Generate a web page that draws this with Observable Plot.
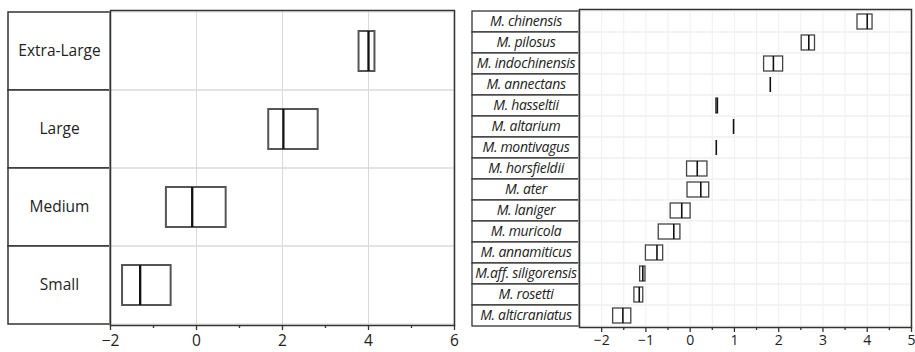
<!DOCTYPE html>
<html><head><meta charset="utf-8">
<script src="https://cdn.jsdelivr.net/npm/d3@7"></script>
<script src="https://cdn.jsdelivr.net/npm/@observablehq/plot@0.6"></script>
<style>
body{margin:0;background:#fff;}
#wrap{display:flex;width:915px;height:352px;overflow:hidden;}
#wrap svg{display:block;flex:none;overflow:visible;}
</style></head><body><div id="wrap"></div>
<script>
// Left panel: size classes
const sizeClasses = ["Extra-Large", "Large", "Medium", "Small"];
const sizeQ1 =     [3.78, 1.68, -0.70, -1.72];
const sizeMedian = [4.00, 2.02, -0.10, -1.31];
const sizeQ3 =     [4.15, 2.83,  0.69, -0.59];
const sizeTicks = [-2, 0, 2, 4, 6];
const sizeMinorTicks = [-1, 1, 3, 5];
const sizeGrid = [0, 2, 4];

// Right panel: species
const species = ["M. chinensis", "M. pilosus", "M. indochinensis", "M. annectans", "M. hasseltii",
  "M. altarium", "M. montivagus", "M. horsfieldii", "M. ater", "M. laniger", "M. muricola",
  "M. annamiticus", "M.aff. siligorensis", "M. rosetti", "M. alticraniatus"];
const spQ1 =     [3.78, 2.52, 1.67, 1.81, 0.59, 0.98, 0.59, -0.07, -0.06, -0.44, -0.71, -1.00, -1.13, -1.26, -1.74];
const spMedian = [4.00, 2.68, 1.88, 1.81, 0.61, 0.98, 0.59,  0.16,  0.24, -0.19, -0.37, -0.75, -1.07, -1.15, -1.52];
const spQ3 =     [4.12, 2.82, 2.10, 1.81, 0.63, 0.98, 0.59,  0.39,  0.43,  0.01, -0.22, -0.61, -1.01, -1.06, -1.33];
const spTicks = [-2, -1, 0, 1, 2, 3, 4, 5];
const spMinorTicks = [-1.5, -0.5, 0.5, 1.5, 2.5, 3.5, 4.5];
const spGrid = [-2, -1.5, -1, -0.5, 0, 0.5, 1, 1.5, 2, 2.5, 3, 3.5, 4, 4.5];

const sizeData = sizeClasses.map((c, i) => ({c, q1: sizeQ1[i], med: sizeMedian[i], q3: sizeQ3[i]}));
const spData = species.map((c, i) => ({c, q1: spQ1[i], med: spMedian[i], q3: spQ3[i]}));

const font = '"Open Sans", "Noto Sans", sans-serif';
const H = 352;

function table(cats, {width, marginLeft, marginTop, marginBottom, fontSize, fontStyle, strokeWidth, letterSpacing}) {
  return Plot.plot({
    width, height: H, marginLeft, marginRight: 0, marginTop, marginBottom,
    style: {fontFamily: font, background: "transparent", overflow: "visible", letterSpacing},
    x: {domain: ["label"], axis: null, padding: 0},
    y: {domain: cats, axis: null, padding: 0},
    marks: [
      Plot.cell(cats, {x: () => "label", y: d => d, fill: "white", stroke: "#333", strokeWidth}),
      Plot.text(cats, {x: () => "label", y: d => d, text: d => d, fontSize, fontStyle, fill: "#222"})
    ]
  });
}

function boxes(data, cats, o) {
  return Plot.plot({
    width: o.width, height: H, marginLeft: 0, marginRight: o.marginRight, marginTop: o.marginTop, marginBottom: o.marginBottom,
    style: {fontFamily: font, fontSize: o.fontSize + "px", color: "#222", background: "transparent", overflow: "visible"},
    x: {domain: o.domain},
    y: {domain: cats, padding: 0, axis: null},
    marks: [
      Plot.gridX(o.grid, {stroke: o.gridColor, strokeOpacity: 1}),
      Plot.barX(cats, {y: d => d, x1: o.domain[0], x2: o.domain[1], fill: "none", stroke: o.gridColor}),
      Plot.barX(data, {y: "c", x1: "q1", x2: "q3", fill: "white", stroke: o.boxColor, strokeWidth: o.boxWidth, insetTop: o.inset, insetBottom: o.inset}),
      Plot.tickX(data, {y: "c", x: "med", stroke: "#111", strokeWidth: o.boxWidth + 0.3, insetTop: o.inset, insetBottom: o.inset}),
      Plot.frame({stroke: "#333", strokeWidth: 1.5}),
      Plot.axisX(o.ticks, {tickSize: 5, tickPadding: o.tickPadding, stroke: "#333", strokeWidth: 1.3, fontSize: o.fontSize}),
      Plot.axisX(o.minor, {tickSize: 3, tickFormat: () => "", stroke: "#333", strokeWidth: 1.3})
    ]
  });
}

const wrap = document.getElementById("wrap");
wrap.appendChild(table(sizeClasses, {width: 110, marginLeft: 8, marginTop: 10, marginBottom: 27, fontSize: 15.5, fontStyle: "normal", strokeWidth: 1.5}));
wrap.appendChild(boxes(sizeData, sizeClasses, {width: 350, marginRight: 6, marginTop: 10, marginBottom: 27,
  domain: [-2, 6], grid: sizeGrid, gridColor: "#d9d9d9", boxColor: "#555", boxWidth: 2, inset: 19,
  ticks: sizeTicks, minor: sizeMinorTicks, fontSize: 15.5, tickPadding: 4}));
wrap.appendChild(table(species, {width: 119, marginLeft: 12, marginTop: 9, marginBottom: 25, fontSize: 14, fontStyle: "italic", strokeWidth: 1.3, letterSpacing: "-0.3px"}));
wrap.appendChild(boxes(spData, species, {width: 336, marginRight: 4, marginTop: 9, marginBottom: 25,
  domain: [-2.5, 5], grid: spGrid, gridColor: "#efefef", boxColor: "#444", boxWidth: 1.3, inset: 3,
  ticks: spTicks, minor: spMinorTicks, fontSize: 14, tickPadding: 3}));
</script></body></html>
